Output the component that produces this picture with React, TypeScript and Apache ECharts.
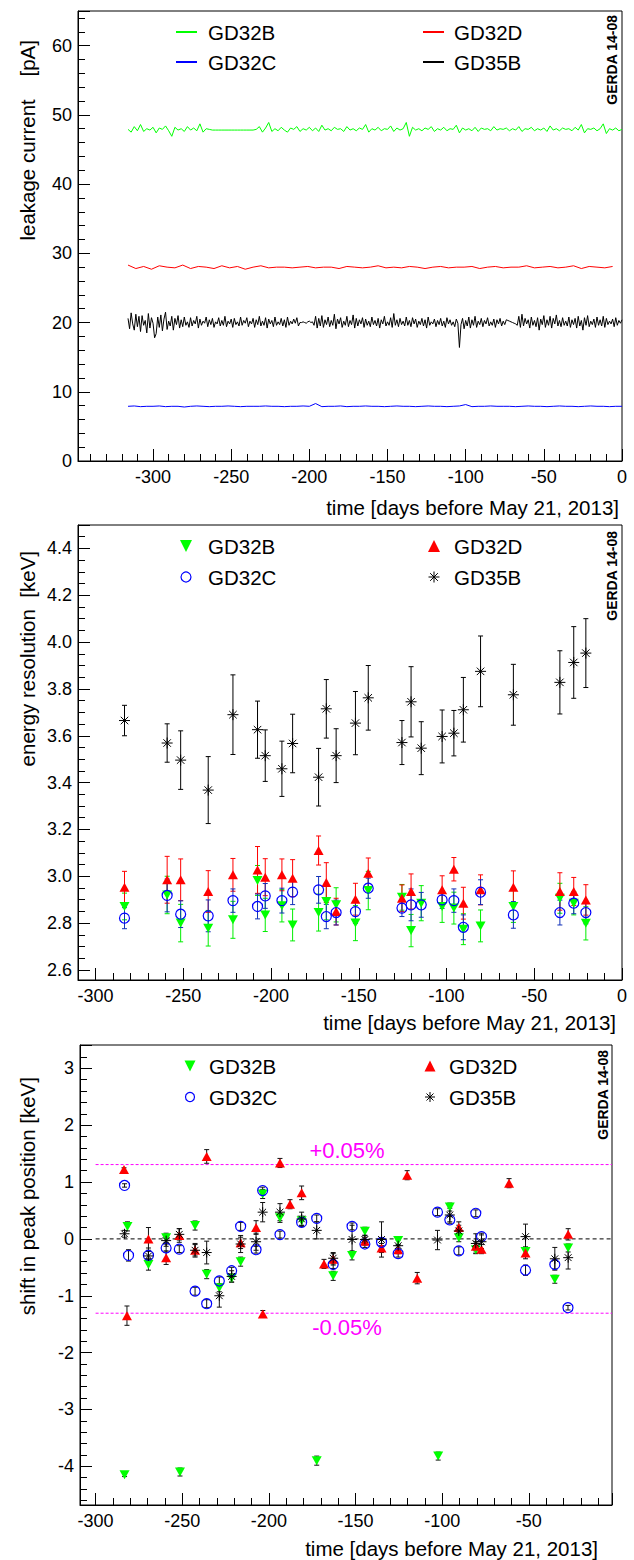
import React, { useEffect, useRef } from "react";
import * as echarts from "echarts";

const FONT = "'Liberation Sans', Arial, Helvetica, sans-serif";

// ---------- top panel: leakage current [pA] (sampled every step days from leakStartDay) ----------
const leakStartDay = -316;
const leakGD32BStep = 2;
const leakGD32B = [
  47.9, 47.5, 48.3, 47.7, 48.6, 47.6, 48.0, 47.8, 48.2, 47.4, 48.1, 47.9, 48.4, 47.7, 46.9, 48.2, 47.8, 48.0, 47.6, 48.3,
  47.8, 48.1, 47.7, 48.7, 47.5, 48.0, 47.9, 47.8, 47.8, 47.8, 47.8, 47.8, 47.8, 47.8, 47.8, 47.8, 47.8, 47.8, 47.8, 47.8,
  47.8, 47.9, 48.3, 47.5, 48.1, 48.9, 47.6, 48.0, 47.7, 48.2, 47.8, 47.5, 48.1, 47.9, 48.3, 47.6, 48.0, 47.8, 48.2, 47.7,
  48.1, 47.6, 48.5, 47.8, 48.0, 47.7, 48.2, 47.9, 48.0, 47.6, 48.3, 47.8, 48.0, 47.7, 48.1, 47.9, 48.6, 47.5, 48.0, 47.8,
  48.2, 47.7, 48.0, 47.9, 48.4, 47.6, 48.1, 47.8, 48.0, 48.9, 46.9, 48.2, 47.8, 48.0, 47.7, 48.1, 47.9, 48.3, 47.6, 48.0,
  47.8, 48.2, 47.7, 48.0, 47.9, 48.5, 47.4, 48.1, 47.8, 48.0, 47.7, 48.2, 47.6, 48.1, 47.9, 48.0, 47.7, 48.3, 47.8, 48.0,
  47.9, 48.1, 47.7, 48.0, 47.8, 48.3, 47.6, 48.0, 47.9, 48.2, 47.7, 48.0, 47.8, 48.1, 47.6, 48.4, 47.8, 48.0, 47.7, 48.1,
  47.9, 48.0, 47.7, 48.2, 47.8, 48.6, 47.4, 48.0, 47.9, 48.1, 47.7, 48.0, 48.7, 47.3, 48.0, 47.8, 48.1, 47.7, 47.9,
];
const leakGD32CStep = 4;
const leakGD32C = [
  7.9, 7.95, 7.85, 7.9, 7.9, 7.95, 7.85, 7.9, 7.9, 7.8,
  7.9, 7.95, 7.9, 7.85, 7.9, 7.9, 7.95, 7.9, 7.85, 7.9,
  7.9, 7.9, 7.95, 7.9, 7.9, 7.85, 7.9, 7.9, 7.95, 7.9,
  8.3, 7.85, 7.9, 7.9, 7.95, 7.85, 7.9, 7.9, 7.95, 7.9,
  7.9, 7.85, 7.9, 7.95, 7.9, 7.9, 7.85, 7.9, 7.95, 7.9,
  7.9, 7.85, 7.9, 7.95, 8.15, 7.85, 7.9, 7.9, 7.95, 7.9,
  7.9, 7.9, 7.85, 7.9, 7.95, 7.9, 7.9, 7.85, 7.9, 7.95,
  7.9, 7.9, 7.85, 7.9, 7.95, 7.9, 7.9, 7.85, 7.9, 7.9,
];
const leakGD32DStep = 5;
const leakGD32D = [
  28.3, 27.8, 28.1, 27.7, 28.2, 28.0, 27.9, 28.3, 27.8, 28.1,
  28.0, 27.8, 28.2, 27.9, 28.1, 27.7, 28.0, 28.2, 27.9, 28.0,
  28.0, 27.9, 28.0, 28.1, 27.9, 28.0, 28.0, 27.8, 28.1, 28.0,
  27.9, 28.0, 28.2, 27.9, 28.0, 27.9, 28.1, 28.0, 27.8, 28.0,
  28.1, 27.9, 28.0, 28.0, 28.1, 27.8, 28.0, 28.1, 27.9, 28.0,
  28.0, 28.2, 27.9, 28.0, 28.1, 27.9, 28.0, 28.2, 27.8, 28.1,
  28.0, 27.9, 28.1,
];
const leakGD35BStep = 1;
const leakGD35B = [
  20.6, 19.1, 21.4, 19.8, 18.9, 21.2, 19.4, 20.9, 18.7, 21.0, 19.6, 20.3, 18.5, 21.3, 19.2, 20.7, 19.9, 17.8, 18.4, 20.8,
  19.3, 21.1, 18.8, 20.5, 21.5, 19.0, 20.2, 19.5, 20.9, 18.9, 20.6, 19.7, 21.0, 19.2, 20.4, 19.4, 20.8, 19.6, 20.1, 19.3,
  20.7, 19.5, 20.3, 19.8, 20.9, 19.2, 20.5, 19.6, 20.2, 19.9, 20.8, 19.4, 20.4, 19.7, 20.6, 19.3, 20.1, 19.8, 20.7, 19.5,
  20.3, 19.6, 20.9, 19.4, 20.2, 19.8, 20.5, 19.3, 20.6, 19.7, 20.1, 19.5, 20.8, 19.6, 20.3, 19.9, 20.7, 19.4, 20.2, 19.8,
  20.6, 19.3, 20.4, 19.7, 20.9, 19.5, 20.2, 19.6, 20.7, 19.2, 20.5, 19.8, 20.3, 19.4, 20.8, 19.6, 20.1, 19.7, 20.6, 19.5,
  20.4, 19.3, 20.8, 19.6, 20.2, 19.8, 20.5, 19.9, 20.7, 19.5, 20.0, 20.0, 20.1, 20.0, 19.9, 20.1, 20.2, 20.0, 20.1, 19.6,
  20.9, 19.2, 20.6, 19.5, 21.0, 19.3, 20.4, 19.7, 20.8, 19.4, 20.3, 19.6, 21.2, 19.1, 20.5, 19.8, 20.7, 19.3, 20.2, 19.6,
  20.9, 19.4, 20.3, 19.7, 21.1, 19.2, 20.6, 19.5, 20.4, 19.8, 20.7, 19.3, 20.5, 19.6, 20.2, 19.4, 20.8, 19.7, 20.3, 19.5,
  20.6, 19.2, 20.4, 19.8, 20.9, 19.5, 20.1, 19.6, 20.7, 19.3, 21.3, 19.6, 20.4, 19.4, 20.6, 19.7, 20.2, 19.5, 20.8, 19.6,
  20.3, 19.4, 20.7, 19.8, 20.5, 19.3, 20.2, 19.7, 20.6, 19.5, 20.4, 19.2, 20.8, 19.6, 20.1, 19.8, 20.5, 19.4, 20.3, 19.7,
  20.6, 19.5, 20.2, 19.3, 20.7, 19.8, 20.4, 19.6, 20.1, 19.4, 20.5, 19.9, 16.4, 19.7, 20.6, 19.1, 20.3, 19.5, 20.8, 19.2,
  20.4, 19.6, 20.9, 19.3, 20.2, 19.7, 20.6, 19.4, 20.3, 19.8, 20.7, 19.5, 20.1, 19.6, 20.5, 19.3, 20.4, 19.8, 20.6, 19.5,
  20.2, 19.7, 20.4, 20.3, 20.2, 20.1, 20.0, 19.9, 19.8, 19.6, 20.9, 19.3, 21.2, 19.5, 20.6, 19.8, 20.4, 19.2, 20.8, 19.6,
  20.3, 19.4, 20.7, 18.9, 20.5, 19.7, 21.0, 19.3, 20.4, 19.6, 20.9, 19.2, 20.6, 19.8, 21.1, 19.5, 20.3, 19.4, 20.7, 19.6,
  20.2, 19.5, 20.8, 19.3, 20.4, 19.7, 20.6, 19.2, 20.9, 19.5, 20.3, 18.9, 20.7, 19.6, 21.0, 19.4, 20.2, 19.7, 20.5, 19.3,
  20.8, 19.6, 20.4, 19.5, 20.9, 19.3, 20.6, 19.7, 20.2, 19.8, 20.5, 19.4, 20.7, 19.6, 20.3, 19.9, 20.4,
];

// ---------- middle panel: energy resolution [keV] ----------
const resDays = [-283.5, -259.2, -251.5, -235.8, -221.7, -207.7, -203.3, -193.8, -187.7, -172.9, -168.5, -162.9, -151.9,
  -144.6, -125.4, -120.2, -114.4, -102.5, -95.8, -90.4, -80.6, -61.9, -35.4, -27.5, -20.6];
const resGD32B = [2.871, 2.92, 2.8, 2.778, 2.814, 2.982, 2.835, 2.874, 2.792, 2.845, 2.892, 2.878, 2.8, 2.939, 2.91, 2.768,
  2.885, 2.871, 2.864, 2.774, 2.788, 2.871, 2.906, 2.885, 2.799];
const resGD32BErr = [0.057, 0.08, 0.08, 0.076, 0.079, 0.064, 0.071, 0.069, 0.068, 0.079, 0.078, 0.073, 0.075, 0.082, 0.055,
  0.069, 0.075, 0.068, 0.068, 0.066, 0.068, 0.068, 0.064, 0.05, 0.071];
const resGD32C = [2.821, 2.918, 2.838, 2.831, 2.896, 2.871, 2.916, 2.896, 2.932, 2.942, 2.828, 2.845, 2.849, 2.949, 2.864,
  2.878, 2.878, 2.899, 2.896, 2.782, 2.932, 2.835, 2.845, 2.885, 2.845];
const resGD32CErr = [0.045, 0.07, 0.057, 0.068, 0.05, 0.053, 0.053, 0.053, 0.053, 0.057, 0.052, 0.053, 0.05, 0.043, 0.036,
  0.068, 0.053, 0.036, 0.05, 0.053, 0.053, 0.057, 0.053, 0.045, 0.048];
const resGD32D = [2.953, 2.985, 2.985, 2.935, 3.006, 3.027, 2.996, 3.006, 2.992, 3.11, 2.973, 2.849, 2.902, 3.013, 2.906,
  2.935, null, 2.942, 3.03, 2.885, 2.942, 2.953, 2.935, 2.935, 2.899];
const resGD32DErr = [0.068, 0.1, 0.089, 0.089, 0.07, 0.1, 0.079, 0.068, 0.079, 0.062, 0.085, 0.057, 0.068, 0.065, 0.057,
  0.075, null, 0.06, 0.05, 0.068, 0.064, 0.07, 0.08, 0.06, 0.065];
const resGD35B = [3.665, 3.569, 3.496, 3.368, 3.69, 3.626, 3.515, 3.459, 3.567, 3.423, 3.715, 3.515, 3.654, 3.762, 3.571,
  3.745, 3.547, 3.597, 3.611, 3.711, 3.875, 3.775, 3.828, 3.913, 3.953];
const resGD35BErr = [0.065, 0.082, 0.125, 0.143, 0.17, 0.122, 0.11, 0.118, 0.125, 0.123, 0.125, 0.115, 0.135, 0.138, 0.094,
  0.15, 0.113, 0.113, 0.097, 0.138, 0.151, 0.13, 0.135, 0.153, 0.147];

// ---------- bottom panel: shift in peak position [keV]; [day, shift, error] ----------
const shiftGD32B = [
  [-283.3, -4.15, 0.03], [-281.6, 0.22, 0.08], [-269.5, -0.45, 0.1], [-259.3, 0.02, 0.08], [-251.3, -4.1, 0.07],
  [-242.6, 0.235, 0.08], [-235.9, -0.62, 0.08], [-228.6, -0.86, 0.07], [-221.5, -0.69, 0.07], [-216.3, -0.4, 0.08],
  [-203.6, 0.79, 0.08], [-193.6, 0.37, 0.08], [-181.1, 0.32, 0.08], [-172.4, -3.9, 0.08], [-162.9, -0.65, 0.08],
  [-152.0, -0.29, 0.08], [-144.6, 0.135, 0.07], [-125.4, -0.03, 0.07], [-102.3, -3.82, 0.07], [-95.6, 0.56, 0.07],
  [-90.4, 0.02, 0.07], [-80.6, -0.19, 0.07], [-51.9, -0.22, 0.08], [-35.0, -0.71, 0.07], [-27.3, -0.16, 0.07],
];
const shiftGD32C = [
  [-283.3, 0.94, 0.03], [-281.0, -0.29, 0.1], [-269.5, -0.29, 0.07], [-259.3, -0.16, 0.07], [-251.7, -0.18, 0.06],
  [-242.6, -0.92, 0.07], [-235.9, -1.14, 0.07], [-228.6, -0.74, 0.07], [-221.5, -0.56, 0.06], [-216.3, 0.22, 0.07],
  [-207.4, -0.19, 0.06], [-203.6, 0.85, 0.06], [-193.6, 0.076, 0.06], [-181.1, 0.29, 0.07], [-172.4, 0.36, 0.06],
  [-162.9, -0.45, 0.07], [-152.0, 0.22, 0.06], [-144.6, -0.09, 0.06], [-135.0, -0.06, 0.06], [-125.4, -0.26, 0.06],
  [-102.7, 0.47, 0.06], [-95.6, 0.335, 0.06], [-90.4, -0.21, 0.07], [-80.6, 0.45, 0.06], [-77.3, 0.04, 0.06],
  [-51.9, -0.55, 0.09], [-35.0, -0.45, 0.08], [-27.4, -1.21, 0.04],
];
const shiftGD32D = [
  [-283.6, 1.22, 0.03], [-281.9, -1.35, 0.17], [-269.5, 0.0, 0.2], [-259.3, -0.33, 0.12], [-251.7, 0.06, 0.12],
  [-242.6, -0.2, 0.1], [-235.9, 1.45, 0.12], [-216.3, -0.07, 0.1], [-207.4, 0.2, 0.12], [-203.5, -1.32, 0.06],
  [-193.6, 1.335, 0.08], [-187.8, 0.61, 0.08], [-181.1, 0.81, 0.12], [-168.2, -0.44, 0.08], [-162.9, -0.36, 0.1],
  [-144.6, -0.04, 0.07], [-135.0, -0.16, 0.08], [-125.4, -0.19, 0.07], [-120.2, 1.12, 0.08], [-114.4, -0.69, 0.1],
  [-90.4, 0.2, 0.1], [-80.6, -0.13, 0.08], [-77.3, -0.18, 0.08], [-61.4, 0.98, 0.08], [-51.9, -0.25, 0.1],
  [-27.3, 0.08, 0.1],
];
const shiftGD35B = [
  [-283.3, 0.09, 0.06], [-269.5, -0.3, 0.14], [-259.3, -0.03, 0.1], [-251.7, 0.08, 0.1], [-242.6, -0.2, 0.12],
  [-235.9, -0.24, 0.2], [-228.6, -1.0, 0.2], [-221.5, -0.66, 0.1], [-216.3, -0.09, 0.15], [-207.4, -0.05, 0.15],
  [-203.6, 0.47, 0.17], [-193.6, 0.47, 0.15], [-181.1, 0.35, 0.12], [-172.4, 0.15, 0.15], [-162.9, -0.34, 0.1],
  [-152.0, -0.01, 0.25], [-144.6, -0.01, 0.07], [-135.0, -0.01, 0.31], [-125.4, -0.12, 0.1], [-102.7, -0.02, 0.17],
  [-95.6, 0.42, 0.12], [-90.4, 0.14, 0.1], [-80.6, -0.08, 0.17], [-77.3, -0.05, 0.12], [-51.9, 0.04, 0.22],
  [-35.0, -0.35, 0.2], [-27.3, -0.33, 0.2],
];
const refLevels = [1.307, 0, -1.307];
const refLabels = ["+0.05%", "-0.05%"];
const refStartDay = -300;

const xTitle = "time [days before May 21, 2013]";
const yTitles = ["leakage current \u00a0\u00a0\u00a0[pA]", "energy resolution \u00a0[keV]", "shift in peak position [keV]"];
const tag = "GERDA 14-08";

const COL: Record<string, string> = { GD32B: "#00ff00", GD32C: "#0000ff", GD32D: "#ff0000", GD35B: "#000000" };
const STAR = "path://M0 5L10 5M5 0L5 10M1.6 1.6L8.4 8.4M1.6 8.4L8.4 1.6";

const GRIDS = [
  { left: 78, top: 11, width: 544, height: 450 },
  { left: 78, top: 525, width: 544, height: 455 },
  { left: 80, top: 1045, width: 532, height: 460 },
];
const GRIDS_X_MAX = [0, 0, -2];

function xAxisCfg(gi: number, min: number, max: number, showMax: boolean) {
  return {
    type: "value", gridIndex: gi, min, max, minInterval: 50, maxInterval: 50,
    axisLine: { show: true, onZero: false, lineStyle: { color: "#000", width: 1 } },
    axisTick: { show: true, inside: true, length: 12, lineStyle: { color: "#000", width: 1 } },
    minorTick: { show: true, splitNumber: 5, length: 7, lineStyle: { color: "#000", width: 1 } },
    axisLabel: { show: true, margin: 7, color: "#000", fontSize: 18, fontFamily: FONT, showMinLabel: false, showMaxLabel: showMax },
    splitLine: { show: false },
    minorSplitLine: { show: false },
  };
}
function yAxisCfg(gi: number, min: number, max: number, step: number, minorSplit: number, showMin: boolean, fmt: (v: number) => string) {
  return {
    type: "value", gridIndex: gi, min, max, minInterval: step, maxInterval: step,
    axisLine: { show: true, onZero: false, lineStyle: { color: "#000", width: 1 } },
    axisTick: { show: true, inside: true, length: 12, lineStyle: { color: "#000", width: 1 } },
    minorTick: { show: true, splitNumber: minorSplit, length: 7, lineStyle: { color: "#000", width: 1 } },
    axisLabel: { show: true, margin: 6, color: "#000", fontSize: 18, fontFamily: FONT, showMinLabel: showMin, showMaxLabel: false, formatter: fmt },
    splitLine: { show: false },
    minorSplitLine: { show: false },
  };
}

function leakSeries(name: string, start: number, step: number, vals: number[]) {
  return {
    type: "line", name, xAxisIndex: 0, yAxisIndex: 0, symbol: "none", silent: true,
    data: vals.map((v, i) => [start + i * step, v]),
    lineStyle: { color: COL[name], width: 1 }, z: 3,
  };
}

function errSeries(name: string, gi: number, data: number[][], color: string, cap: number) {
  return {
    type: "custom", name: name + "-err", xAxisIndex: gi, yAxisIndex: gi, silent: true, z: 2,
    data,
    renderItem: (_p: any, api: any) => {
      const x = api.value(0), y = api.value(1), e = api.value(2);
      const a = api.coord([x, y + e]);
      const b = api.coord([x, y - e]);
      const style = { stroke: color, lineWidth: 1, fill: "none" };
      return {
        type: "group",
        children: [
          { type: "line", shape: { x1: a[0], y1: a[1], x2: b[0], y2: b[1] }, style },
          { type: "line", shape: { x1: a[0] - cap, y1: a[1], x2: a[0] + cap, y2: a[1] }, style },
          { type: "line", shape: { x1: b[0] - cap, y1: b[1], x2: b[0] + cap, y2: b[1] }, style },
        ],
      };
    },
  };
}

function pointSeries(name: string, gi: number, data: number[][], tri: number, circ: number, star: number) {
  const base: any = { type: "scatter", name, xAxisIndex: gi, yAxisIndex: gi, silent: true, z: 4, data: data.map((d) => [d[0], d[1]]) };
  if (name === "GD32B") return { ...base, symbol: "triangle", symbolRotate: 180, symbolSize: [tri + 1, tri], itemStyle: { color: COL[name], borderWidth: 0, opacity: 1 } };
  if (name === "GD32D") return { ...base, symbol: "triangle", symbolSize: [tri + 1, tri], itemStyle: { color: COL[name], borderWidth: 0, opacity: 1 } };
  if (name === "GD32C") return { ...base, symbol: "circle", symbolSize: circ, itemStyle: { color: "rgba(0,0,0,0)", borderColor: COL[name], borderWidth: 1.2, opacity: 1 } };
  return { ...base, symbol: STAR, symbolSize: star, itemStyle: { color: "rgba(0,0,0,0)", borderColor: "#000", borderWidth: 1, opacity: 1 } };
}

function resTriples(vals: (number | null)[], errs: (number | null)[]) {
  const out: number[][] = [];
  resDays.forEach((d, i) => {
    const v = vals[i], e = errs[i];
    if (v != null && e != null) out.push([d, v, e]);
  });
  return out;
}

function legendMarker(name: string, kind: string, cx: number, cy: number, s: number): any {
  if (kind === "line") {
    return { type: "line", shape: { x1: cx - 10.5, y1: cy, x2: cx + 10.5, y2: cy }, style: { stroke: COL[name], lineWidth: 2 } };
  }
  if (name === "GD32B") {
    return { type: "polygon", shape: { points: [[cx - s / 2, cy - s / 2], [cx + s / 2, cy - s / 2], [cx, cy + s / 2]] }, style: { fill: COL[name] } };
  }
  if (name === "GD32D") {
    return { type: "polygon", shape: { points: [[cx, cy - s / 2], [cx + s / 2, cy + s / 2], [cx - s / 2, cy + s / 2]] }, style: { fill: COL[name] } };
  }
  if (name === "GD32C") {
    return { type: "circle", shape: { cx, cy, r: s / 2 - 1 }, style: { fill: "none", stroke: COL[name], lineWidth: 1.2 } };
  }
  const h = s / 2 - 0.5, d = h * 0.7;
  const st = { stroke: "#000", lineWidth: 1 };
  return {
    type: "group",
    children: [
      { type: "line", shape: { x1: cx - h, y1: cy, x2: cx + h, y2: cy }, style: st },
      { type: "line", shape: { x1: cx, y1: cy - h, x2: cx, y2: cy + h }, style: st },
      { type: "line", shape: { x1: cx - d, y1: cy - d, x2: cx + d, y2: cy + d }, style: st },
      { type: "line", shape: { x1: cx - d, y1: cy + d, x2: cx + d, y2: cy - d }, style: st },
    ],
  };
}

function legendBlock(kind: string, lx: number, ltx: number, rx: number, rtx: number, y1: number, y2: number, s: number) {
  const items = [
    ["GD32B", lx, ltx, y1], ["GD32D", rx, rtx, y1], ["GD32C", lx, ltx, y2], ["GD35B", rx, rtx, y2],
  ] as [string, number, number, number][];
  const els: any[] = [];
  items.forEach(([n, mx, tx, y]) => {
    els.push(legendMarker(n, kind, mx, y, s));
    els.push({ type: "text", x: tx, y, style: { text: n, font: `20.5px ${FONT}`, fill: "#000", textAlign: "left", textVerticalAlign: "middle" } });
  });
  return els;
}

function buildOption() {
  const graphic: any[] = [];
  const xt = [[619, 507], [616, 1022], [598, 1548]];
  xt.forEach(([x, y]) => graphic.push({ type: "text", x, y, style: { text: xTitle, font: `20.5px ${FONT}`, fill: "#000", textAlign: "right", textVerticalAlign: "middle" } }));
  const yEnds = [40, 551, 1077];
  yTitles.forEach((t, i) => graphic.push({ type: "text", x: 27, y: yEnds[i], rotation: Math.PI / 2, style: { text: t, font: `20.5px ${FONT}`, fill: "#000", textAlign: "right", textVerticalAlign: "middle" } }));
  const tagPos = [[612, 15], [612, 531], [603, 1050]];
  tagPos.forEach(([x, y]) => graphic.push({ type: "text", x, y, rotation: Math.PI / 2, style: { text: tag, font: `bold 14px ${FONT}`, fill: "#000", textAlign: "right", textVerticalAlign: "middle" } }));
  graphic.push(...legendBlock("line", 186.5, 208, 433.5, 454, 32, 62, 12));
  graphic.push(...legendBlock("marker", 186, 208, 434, 454, 546, 577, 12));
  graphic.push(...legendBlock("marker", 190, 209, 430, 449, 1066, 1097, 11));
  graphic.push({ type: "text", x: 347, y: 1150, style: { text: refLabels[0], font: `22px ${FONT}`, fill: "#ff00ff", textAlign: "center", textVerticalAlign: "middle" } });
  graphic.push({ type: "text", x: 347, y: 1327, style: { text: refLabels[1], font: `22px ${FONT}`, fill: "#ff00ff", textAlign: "center", textVerticalAlign: "middle" } });

  const series: any[] = [
    leakSeries("GD32B", leakStartDay, leakGD32BStep, leakGD32B),
    leakSeries("GD32D", leakStartDay, leakGD32DStep, leakGD32D),
    leakSeries("GD32C", leakStartDay, leakGD32CStep, leakGD32C),
    leakSeries("GD35B", leakStartDay, leakGD35BStep, leakGD35B),
  ];
  const res: [string, number[][]][] = [
    ["GD32B", resTriples(resGD32B, resGD32BErr)],
    ["GD32D", resTriples(resGD32D, resGD32DErr)],
    ["GD32C", resTriples(resGD32C, resGD32CErr)],
    ["GD35B", resTriples(resGD35B, resGD35BErr)],
  ];
  const resErrCol: Record<string, string> = { GD32B: "#00ee00", GD32C: "#1030b8", GD32D: "#ff0000", GD35B: "#000000" };
  res.forEach(([n, d]) => series.push(errSeries(n, 1, d, resErrCol[n], 2.5)));
  res.forEach(([n, d]) => series.push(pointSeries(n, 1, d, 9, 10, 11)));

  refLevels.forEach((lvl) => {
    series.push({
      type: "line", xAxisIndex: 2, yAxisIndex: 2, symbol: "none", silent: true, z: 1,
      data: [[refStartDay, lvl], [GRIDS_X_MAX[2], lvl]],
      lineStyle: { color: lvl === 0 ? "#000" : "#ff00ff", width: 1, type: lvl === 0 ? [4, 3] : [3, 2] },
    });
  });
  const shift: [string, number[][]][] = [
    ["GD32B", shiftGD32B], ["GD32D", shiftGD32D], ["GD32C", shiftGD32C], ["GD35B", shiftGD35B],
  ];
  shift.forEach(([n, d]) => series.push(errSeries(n, 2, d, "#111", 2.5)));
  shift.forEach(([n, d]) => series.push(pointSeries(n, 2, d, 9, 10, 10)));

  return {
    animation: false,
    backgroundColor: "#fff",
    textStyle: { fontFamily: FONT },
    grid: GRIDS.map((g) => ({ ...g, show: true, borderColor: "#000", borderWidth: 1, backgroundColor: "transparent", containLabel: false })),
    xAxis: [xAxisCfg(0, -348, 0, true), xAxisCfg(1, -310, 0, true), xAxisCfg(2, -309, GRIDS_X_MAX[2], false)],
    yAxis: [
      yAxisCfg(0, 0, 65, 10, 5, true, (v) => String(v)),
      yAxisCfg(1, 2.557, 4.5, 0.2, 4, false, (v) => v.toFixed(1)),
      yAxisCfg(2, -4.68, 3.41, 1, 5, false, (v) => String(Math.round(v))),
    ],
    series,
    graphic,
  };
}

export default function App() {
  const ref = useRef<HTMLDivElement>(null);
  useEffect(() => {
    if (!ref.current) return;
    const chart = echarts.init(ref.current, undefined, { renderer: "svg" });
    chart.setOption(buildOption() as any);
    return () => chart.dispose();
  }, []);
  return <div ref={ref} style={{ position: "absolute", left: 0, top: 0, width: 634, height: 1560, background: "#fff" }} />;
}
